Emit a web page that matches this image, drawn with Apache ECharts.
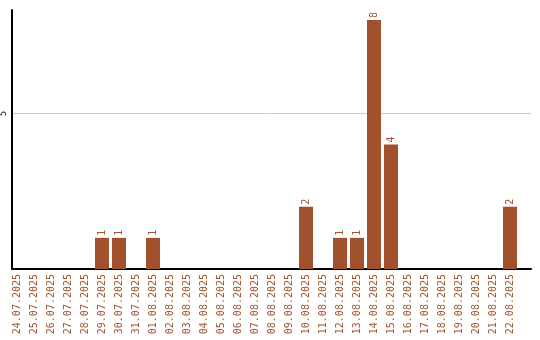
<!DOCTYPE html>
<html><head><meta charset="utf-8">
<script src="https://cdn.jsdelivr.net/npm/echarts@6/dist/echarts.min.js"></script>
<style>html,body{margin:0;padding:0;background:#fff}#c{width:540px;height:340px}</style>
</head><body><div id="c"></div>
<script>
const categories = ["24.07.2025","25.07.2025","26.07.2025","27.07.2025","28.07.2025","29.07.2025","30.07.2025","31.07.2025","01.08.2025","02.08.2025","03.08.2025","04.08.2025","05.08.2025","06.08.2025","07.08.2025","08.08.2025","09.08.2025","10.08.2025","11.08.2025","12.08.2025","13.08.2025","14.08.2025","15.08.2025","16.08.2025","17.08.2025","18.08.2025","19.08.2025","20.08.2025","21.08.2025","22.08.2025"];
const counts = [0,0,0,0,0,1,1,0,1,0,0,0,0,0,0,0,0,2,0,1,1,8,4,0,0,0,0,0,0,2];
const yTicks = [5];
const color = '#a0522d';
const yMax = 8.32;
const chart = echarts.init(document.getElementById('c'), null, {renderer:'canvas'});
chart.setOption({
  animation: false,
  grid: [
    {left: 11, right: 9, top: 10, bottom: 71},
    {left: 8.5, right: 21.5, top: 10, bottom: 71}
  ],
  xAxis: [
    {type: 'value', gridIndex: 0, min: 0, max: 1, axisLine: {show: true, onZero: false, lineStyle: {color: '#000', width: 2}},
     axisTick: {show: false}, axisLabel: {show: false}, splitLine: {show: false}},
    {type: 'category', gridIndex: 1, data: categories, axisLine: {show: false}, axisTick: {show: false},
     axisLabel: {interval: 0, rotate: 90, margin: 5, color: color, fontFamily: 'DejaVu Sans Mono', fontSize: 10}}
  ],
  yAxis: [
    {type: 'value', gridIndex: 0, min: 0, max: yMax, interval: 5,
     axisLine: {show: true, lineStyle: {color: '#000', width: 2}}, axisTick: {show: false},
     axisLabel: {rotate: 90, margin: 4, fontSize: 8, color: '#000', fontFamily: 'DejaVu Sans',
       formatter: v => yTicks.includes(v) ? String(v) : ''},
     splitLine: {show: true, showMinLine: false, showMaxLine: false, lineStyle: {color: '#ccc', width: 1}}},
    {type: 'value', gridIndex: 1, min: 0, max: yMax, show: false, splitLine: {show: false}}
  ],
  series: [{
    type: 'bar', xAxisIndex: 1, yAxisIndex: 1, data: counts, barWidth: 14,
    itemStyle: {color: color},
    label: {show: true, position: 'top', rotate: 90, distance: 2, color: color, fontSize: 10,
      fontFamily: 'DejaVu Sans Mono', align: 'left', verticalAlign: 'middle',
      formatter: p => p.value ? String(p.value) : ''}
  }]
});
</script></body></html>
